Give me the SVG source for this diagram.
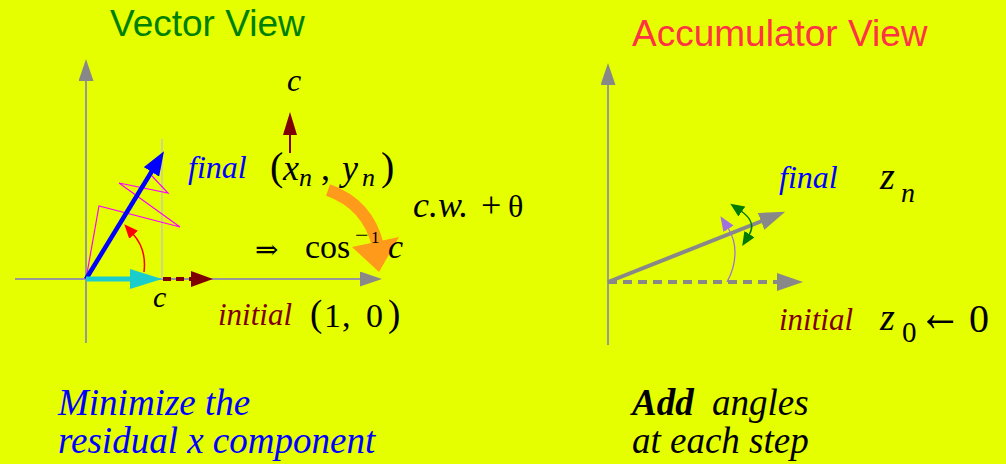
<svg xmlns="http://www.w3.org/2000/svg" width="1006" height="464" viewBox="0 0 1006 464">
<style>
.serif{font-family:'Liberation Serif','DejaVu Serif',serif}
.it{font-style:italic}
.sans{font-family:'Liberation Sans',Arial,sans-serif}
.axis{stroke:#999;stroke-width:2;fill:none}
</style>
<defs>
<marker id="mGray" viewBox="0 0 22 15" refX="1" refY="7.5" markerWidth="22" markerHeight="15" orient="auto" markerUnits="userSpaceOnUse"><path d="M0,0L22,7.5L0,15z" fill="#888"/></marker>
<marker id="mGrayB" viewBox="0 0 26 18" refX="1" refY="9" markerWidth="26" markerHeight="18" orient="auto" markerUnits="userSpaceOnUse"><path d="M0,0L26,9L0,18z" fill="#888"/></marker>
<marker id="mBlue" viewBox="0 0 24 18" refX="1" refY="9" markerWidth="24" markerHeight="18" orient="auto" markerUnits="userSpaceOnUse"><path d="M0,0L24,9L0,18z" fill="#0000FF"/></marker>
<marker id="mCyan" viewBox="0 0 32 20" refX="1" refY="10" markerWidth="32" markerHeight="20" orient="auto" markerUnits="userSpaceOnUse"><path d="M0,0L32,10L0,20z" fill="#1ACCCC"/></marker>
<marker id="mMaroon" viewBox="0 0 22 16" refX="1" refY="8" markerWidth="22" markerHeight="16" orient="auto" markerUnits="userSpaceOnUse"><path d="M0,0L22,8L0,16z" fill="#7F0000"/></marker>
<marker id="mMaroonUp" viewBox="0 0 23 14" refX="1" refY="7" markerWidth="23" markerHeight="14" orient="auto" markerUnits="userSpaceOnUse"><path d="M0,0L23,7L0,14z" fill="#7F0000"/></marker>
<marker id="mRed" viewBox="0 0 14 12" refX="1" refY="6" markerWidth="14" markerHeight="12" orient="auto" markerUnits="userSpaceOnUse"><path d="M0,0L14,6L0,12z" fill="#FF0000"/></marker>
<marker id="mPurple" viewBox="0 0 15 12" refX="1" refY="6" markerWidth="15" markerHeight="12" orient="auto" markerUnits="userSpaceOnUse"><path d="M0,0L15,6L0,12z" fill="#A070E0"/></marker>
<marker id="mGreen" viewBox="0 0 14 12" refX="1" refY="6" markerWidth="14" markerHeight="12" orient="auto-start-reverse" markerUnits="userSpaceOnUse"><path d="M0,0L14,6L0,12z" fill="#007A00"/></marker>
</defs>
<rect width="1006" height="464" fill="#E5FF00"/>

<g id="titles">
<text class="sans" x="110" y="36" font-size="37" fill="#008000">Vector View</text>
<text class="sans" x="632" y="46" font-size="37" fill="#FF3344">Accumulator View</text>
</g>

<g id="connectors">
<line class="axis" x1="86" y1="343" x2="86" y2="80" marker-end="url(#mGray)"/>
<line class="axis" x1="15" y1="279" x2="361" y2="279" stroke="#AAAA70" marker-end="url(#mGray)"/>
<line x1="162" y1="139" x2="162" y2="279" stroke="#C8C8B0" stroke-width="1.5"/>
<polyline points="86,279 99,206 180,227 119,183 168,193 152,176" fill="none" stroke="#FF00FF" stroke-width="1.2"/>
<line x1="86" y1="279" x2="152" y2="171" stroke="#0000FF" stroke-width="4.5" marker-end="url(#mBlue)"/>
<line x1="86" y1="279" x2="131" y2="279" stroke="#1ACCCC" stroke-width="5" marker-end="url(#mCyan)"/>
<line x1="163" y1="279" x2="192" y2="279" stroke="#7F0000" stroke-width="4" stroke-dasharray="8,5" marker-end="url(#mMaroon)"/>
<path d="M144,272 C146,256 142,244 133,234" fill="none" stroke="#FF0000" stroke-width="1.5" marker-end="url(#mRed)"/>
<line x1="290" y1="153" x2="290" y2="134" stroke="#7F0000" stroke-width="2" marker-end="url(#mMaroonUp)"/>
<path d="M328,190 Q368,204 378,246" fill="none" stroke="#FF9A1A" stroke-width="12"/>
<polygon points="352,247 399,237 379,272" fill="#FF9A1A"/>
<line class="axis" x1="608" y1="345" x2="608" y2="84" marker-end="url(#mGray)"/>
<line x1="608" y1="282" x2="778" y2="282" stroke="#888" stroke-width="4" stroke-dasharray="9,6" marker-end="url(#mGrayB)"/>
<line x1="608" y1="282" x2="762" y2="221" stroke="#888" stroke-width="4" marker-end="url(#mGrayB)"/>
<path d="M727,282 C738,262 737,242 728,228" fill="none" stroke="#A070E0" stroke-width="1.3" marker-end="url(#mPurple)"/>
<path d="M741,211 Q757,222 749,235" fill="none" stroke="#007A00" stroke-width="1.5" marker-start="url(#mGreen)" marker-end="url(#mGreen)"/>
</g>

<g id="vector-labels">
<text class="serif it" x="287" y="91" font-size="32">c</text>
<text class="serif it" x="188" y="178" font-size="32" fill="#0000FF">final</text>
<text class="serif" x="270" y="180" font-size="40">(</text>
<text class="serif it" x="283" y="180" font-size="36">x</text>
<text class="serif it" x="299" y="186" font-size="26">n</text>
<text class="serif" x="321" y="180" font-size="36">,</text>
<text class="serif it" x="342" y="180" font-size="36">y</text>
<text class="serif it" x="362" y="186" font-size="26">n</text>
<text class="serif" x="381" y="180" font-size="40">)</text>
<text class="serif it" x="413" y="217" font-size="36">c.w.</text>
<text class="serif" x="481" y="217" font-size="36">+</text>
<text class="serif" x="508" y="217" font-size="32">θ</text>
<text class="serif" x="255" y="259" font-size="28">⇒</text>
<text class="serif" x="305" y="258" font-size="34">cos</text>
<text class="serif" x="355" y="243" font-size="24">−</text>
<text class="serif" x="371" y="243" font-size="17">1</text>
<text class="serif it" x="388" y="258" font-size="34">c</text>
<text class="serif it" x="153" y="307" font-size="30">c</text>
<text class="serif it" x="218" y="325" font-size="31" fill="#7F0000">initial</text>
<text class="serif" x="310" y="326" font-size="37">(</text>
<text class="serif" x="324" y="327" font-size="34">1</text>
<text class="serif" x="342" y="327" font-size="34">,</text>
<text class="serif" x="366" y="327" font-size="34">0</text>
<text class="serif" x="388" y="326" font-size="37">)</text>
</g>

<g id="accum-labels">
<text class="serif it" x="779" y="188" font-size="32" fill="#0000FF">final</text>
<text class="serif it" x="880" y="189" font-size="38">z</text>
<text class="serif it" x="901" y="202" font-size="28">n</text>
<text class="serif it" x="779" y="330" font-size="31" fill="#7F0000">initial</text>
<text class="serif it" x="880" y="330" font-size="38">z</text>
<text class="serif" x="902" y="342" font-size="29">0</text>
<text class="serif" x="918" y="331" font-size="56" textLength="44" lengthAdjust="spacingAndGlyphs">←</text>
<text class="serif" x="969" y="332" font-size="40">0</text>
</g>

<g id="captions">
<text class="serif it" x="58" y="415" font-size="37" fill="#0000FF">Minimize the</text>
<text class="serif it" x="58" y="453" font-size="37" fill="#0000FF">residual x component</text>
<text class="serif it" x="632" y="415" font-size="37"><tspan font-weight="bold">Add</tspan><tspan x="712">angles</tspan></text>
<text class="serif it" x="632" y="453" font-size="37">at each step</text>
</g>
</svg>
